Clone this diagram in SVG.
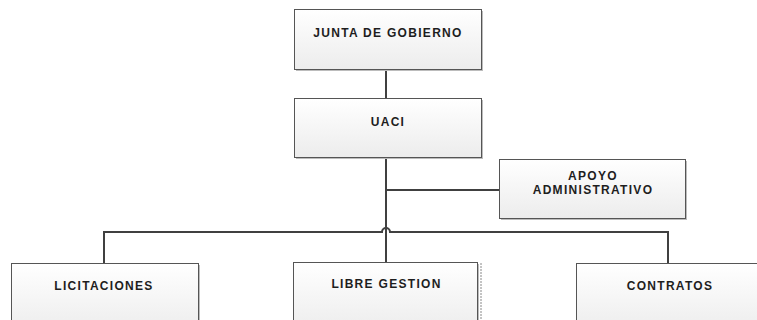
<svg xmlns="http://www.w3.org/2000/svg" width="757" height="320" viewBox="0 0 757 320">
<defs>
<linearGradient id="g" x1="0" y1="0" x2="0" y2="1">
<stop offset="0" stop-color="#ffffff"/>
<stop offset="1" stop-color="#ececec"/>
</linearGradient>
<style>
.sh{fill:#bcbcbc}
.bx{fill:url(#g);stroke:#555;stroke-width:1}
.t{font-family:"Liberation Sans",Arial,sans-serif;font-size:12px;font-weight:bold;fill:#1e1e1e;text-anchor:middle;letter-spacing:1.3px}
.c{fill:none;stroke:#404040;stroke-width:2}
</style>
</defs>
<rect width="757" height="320" fill="#fff"/>
<g id="connectors">
<path class="c" d="M386,69 V98"/>
<path class="c" d="M386,157 V262"/>
<path class="c" d="M386,157 H396" stroke-width="1.5"/>
<path class="c" d="M386,190 H499"/>
<path class="c" d="M104,263 V232 H382 A4,4 0 0 1 390,232 H668 V263"/>
</g>
<g id="junta">
<rect class="sh" x="296" y="11" width="187" height="60"/>
<rect class="bx" x="294.5" y="9.5" width="187" height="60"/>
<text class="t" x="388" y="37">JUNTA DE GOBIERNO</text>
</g>
<g id="uaci">
<rect class="sh" x="296" y="100" width="187" height="59"/>
<rect class="bx" x="294.5" y="98.5" width="187" height="59"/>
<text class="t" x="388" y="126">UACI</text>
</g>
<g id="apoyo">
<rect class="sh" x="501" y="161" width="186" height="59"/>
<rect class="bx" x="499.5" y="159.5" width="186" height="59"/>
<text class="t" x="593" y="180">APOYO</text>
<text class="t" x="593" y="194">ADMINISTRATIVO</text>
</g>
<g id="licitaciones">
<rect class="sh" x="13" y="265" width="187" height="70"/>
<rect class="bx" x="11.5" y="263.5" width="187" height="70"/>
<text class="t" x="104" y="290">LICITACIONES</text>
</g>
<g id="libre">
<rect class="sh" x="295" y="264" width="184" height="70"/>
<rect class="bx" x="293.5" y="262.5" width="184" height="70"/>
<line x1="481" y1="263" x2="481" y2="320" stroke="#888" stroke-width="1" stroke-dasharray="2,1"/>
<text class="t" x="386.5" y="288">LIBRE GESTION</text>
</g>
<g id="contratos">
<rect class="sh" x="578" y="265" width="187" height="70"/>
<rect class="bx" x="576.5" y="263.5" width="187" height="70"/>
<text class="t" x="670" y="290">CONTRATOS</text>
</g>
</svg>
